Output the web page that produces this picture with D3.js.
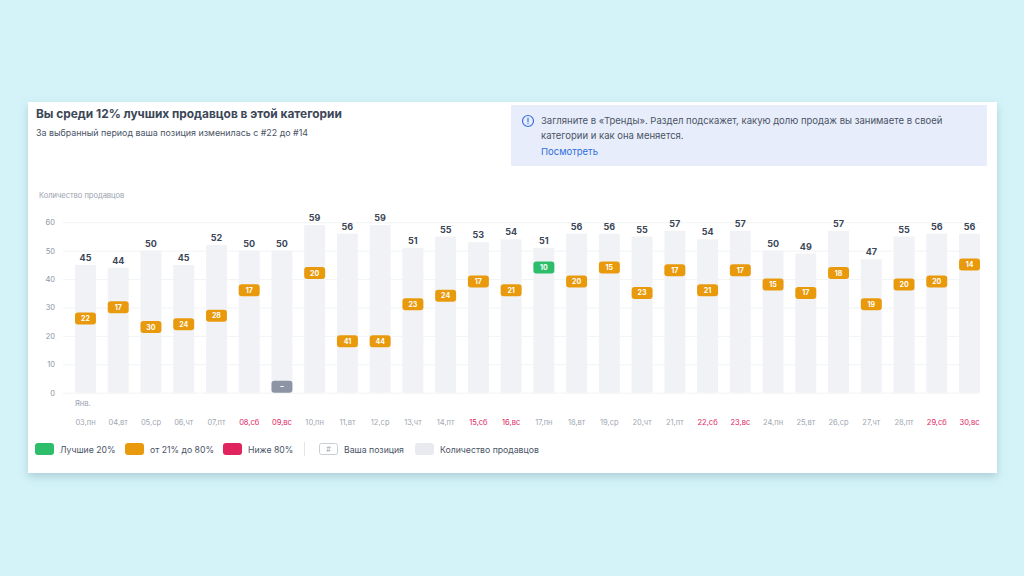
<!DOCTYPE html>
<html>
<head>
<meta charset="utf-8">
<script src="https://cdn.jsdelivr.net/npm/d3@7"></script>
<style>
  html, body { margin: 0; padding: 0; background: #d4f3f8; }
  svg { display: block; font-family: Inter, "Noto Sans", sans-serif; }
</style>
</head>
<body>
<svg id="chart" width="1024" height="576"></svg>
<script>
// Data
const days = ['03,пн', '04,вт', '05,ср', '06,чт', '07,пт', '08,сб', '09,вс',
  '10,пн', '11,вт', '12,ср', '13,чт', '14,пт', '15,сб', '16,вс',
  '17,пн', '18,вт', '19,ср', '20,чт', '21,пт', '22,сб', '23,вс',
  '24,пн', '25,вт', '26,ср', '27,чт', '28,пт', '29,сб', '30,вс'];
const sellers = [45, 44, 50, 45, 52, 50, 50, 59, 56, 59, 51, 55, 53, 54,
  51, 56, 56, 55, 57, 54, 57, 50, 49, 57, 47, 55, 56, 56];
const ranks = [22, 17, 30, 24, 28, 17, null, 20, 41, 44, 23, 24, 17, 21,
  10, 20, 15, 23, 17, 21, 17, 15, 17, 18, 19, 20, 20, 14];
const yTicks = [0, 10, 20, 30, 40, 50, 60];
const legendItems = [
  { label: 'Лучшие 20%', color: '#2dbd6b' },
  { label: 'от 21% до 80%', color: '#e99a0c' },
  { label: 'Ниже 80%', color: '#e0245e' }
];

const svg = d3.select('#chart');

// Card with shadow
const defs = svg.append('defs');
const shadow = defs.append('filter').attr('id', 'shadow')
  .attr('x', '-5%').attr('y', '-5%').attr('width', '110%').attr('height', '115%');
shadow.append('feDropShadow')
  .attr('dx', 0).attr('dy', 4).attr('stdDeviation', 4)
  .attr('flood-color', '#4f808b').attr('flood-opacity', 0.3);

svg.append('rect')
  .attr('x', 28).attr('y', 102).attr('width', 969).attr('height', 371)
  .attr('fill', '#fff').attr('filter', 'url(#shadow)');

// Title and subtitle
svg.append('text')
  .attr('x', 36).attr('y', 118)
  .attr('font-size', 11.9).attr('font-weight', 700).attr('fill', '#3c4758')
  .text('Вы среди 12% лучших продавцов в этой категории');

svg.append('text')
  .attr('x', 36).attr('y', 136)
  .attr('font-size', 8.9).attr('fill', '#4a5466')
  .text('За выбранный период ваша позиция изменилась с #22 до #14');

// Info box
svg.append('rect')
  .attr('x', 511).attr('y', 105).attr('width', 476).attr('height', 61)
  .attr('fill', '#e8edfb');

const icon = svg.append('g').attr('transform', 'translate(528,121)');
icon.append('circle').attr('r', 5.5)
  .attr('fill', 'none').attr('stroke', '#3a6fe0').attr('stroke-width', 1.2);
icon.append('line').attr('x1', 0).attr('x2', 0).attr('y1', -3).attr('y2', 0.8)
  .attr('stroke', '#3a6fe0').attr('stroke-width', 1.2).attr('stroke-linecap', 'round');
icon.append('circle').attr('cy', 2.6).attr('r', 0.7).attr('fill', '#3a6fe0');

const info = svg.append('g').attr('font-size', 9.5).attr('fill', '#4a5466');
info.append('text').attr('x', 541).attr('y', 124)
  .text('Загляните в «Тренды». Раздел подскажет, какую долю продаж вы занимаете в своей');
info.append('text').attr('x', 541).attr('y', 139)
  .text('категории и как она меняется.');
info.append('text').attr('x', 541).attr('y', 155).attr('fill', '#2f6ee0')
  .text('Посмотреть');

// Scales
const x = d3.scaleBand().domain(days).range([75, 980]).paddingInner(0.36).paddingOuter(0);
const y = d3.scaleLinear().domain([0, 60]).range([392.7, 222.3]);

svg.append('text')
  .attr('x', 39).attr('y', 198)
  .attr('font-size', 7.5).attr('fill', '#9aa1ad')
  .text('Количество продавцов');

// Y axis with gridlines
const yAxis = svg.append('g')
  .attr('transform', 'translate(63,0)')
  .call(d3.axisLeft(y).tickValues(yTicks).tickSize(-917).tickPadding(8));
yAxis.select('.domain').remove();
yAxis.selectAll('.tick line').attr('stroke', '#f1f3f6');
yAxis.selectAll('.tick text')
  .attr('font-size', 7.5).attr('fill', '#8e96a3').attr('font-family', 'Inter, sans-serif');

// Bars
svg.append('g').selectAll('rect')
  .data(days)
  .join('rect')
  .attr('x', d => x(d))
  .attr('y', (d, i) => y(sellers[i]))
  .attr('width', x.bandwidth())
  .attr('height', (d, i) => y(0) - y(sellers[i]))
  .attr('fill', '#f1f2f6');

// Seller counts above bars
svg.append('g').selectAll('text')
  .data(days)
  .join('text')
  .attr('x', d => x(d) + x.bandwidth() / 2)
  .attr('y', (d, i) => y(sellers[i]) - 4)
  .attr('text-anchor', 'middle')
  .attr('font-size', 9).attr('font-weight', 700).attr('fill', '#3c4758')
  .text((d, i) => sellers[i]);

// Position badges: bottom sits at (sellers - rank + 1)
function badgeColor(i) {
  if (ranks[i] === null) return '#8d95a5';
  const share = ranks[i] / sellers[i];
  if (share <= 0.2) return legendItems[0].color;
  if (share <= 0.8) return legendItems[1].color;
  return legendItems[2].color;
}
const badgeH = 12;
const badges = svg.append('g').selectAll('g')
  .data(days)
  .join('g')
  .attr('transform', (d, i) => {
    const base = ranks[i] === null ? 0 : sellers[i] - ranks[i] + 1;
    return `translate(${x(d)},${y(base) - badgeH})`;
  });
badges.append('rect')
  .attr('width', x.bandwidth()).attr('height', badgeH).attr('rx', 3)
  .attr('fill', (d, i) => badgeColor(i));
badges.append('text')
  .attr('x', x.bandwidth() / 2).attr('y', badgeH / 2 + 2.5)
  .attr('text-anchor', 'middle')
  .attr('font-size', 7).attr('font-weight', 700).attr('fill', '#fff')
  .text((d, i) => ranks[i] === null ? '–' : ranks[i]);

// X labels
svg.append('text')
  .attr('x', x(days[0])).attr('y', 406)
  .attr('font-size', 7.5).attr('fill', '#9aa1ad')
  .text('Янв.');

svg.append('g').selectAll('text')
  .data(days)
  .join('text')
  .attr('x', d => x(d) + x.bandwidth() / 2)
  .attr('y', 425)
  .attr('text-anchor', 'middle')
  .attr('font-size', 7.5)
  .attr('fill', d => /сб|вс/.test(d) ? '#e0245e' : '#a0a7b2')
  .text(d => d);

// Legend
const legend = svg.append('g').attr('font-size', 8.7).attr('fill', '#4a5466');
const legendX = [35, 125, 223];
legendItems.forEach((item, i) => {
  legend.append('rect')
    .attr('x', legendX[i]).attr('y', 443).attr('width', 19).attr('height', 12).attr('rx', 3)
    .attr('fill', item.color);
  legend.append('text')
    .attr('x', legendX[i] + 25).attr('y', 452.5)
    .text(item.label);
});

legend.append('line')
  .attr('x1', 304.5).attr('x2', 304.5).attr('y1', 442).attr('y2', 456)
  .attr('stroke', '#e3e6eb');

legend.append('rect')
  .attr('x', 319.5).attr('y', 443.5).attr('width', 18).attr('height', 11).attr('rx', 2)
  .attr('fill', '#fff').attr('stroke', '#c9ced6');
legend.append('text')
  .attr('x', 328.5).attr('y', 451.5).attr('text-anchor', 'middle')
  .attr('font-size', 7).attr('fill', '#9aa1ad')
  .text('#');
legend.append('text').attr('x', 344).attr('y', 452.5).text('Ваша позиция');

legend.append('rect')
  .attr('x', 415).attr('y', 443).attr('width', 19).attr('height', 12).attr('rx', 3)
  .attr('fill', '#e8eaf0');
legend.append('text').attr('x', 440).attr('y', 452.5).text('Количество продавцов');
</script>
</body>
</html>
